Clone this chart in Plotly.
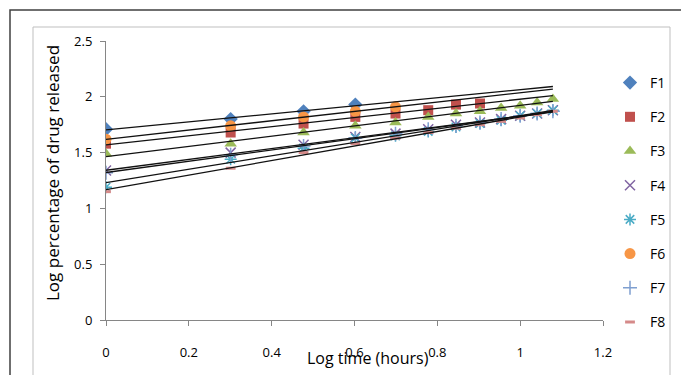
import numpy as np
import plotly.graph_objects as go

# log time (hours) values
log_time = [0, 0.301, 0.477, 0.602, 0.699, 0.778, 0.845, 0.903, 0.954, 1.0, 1.041, 1.079]

series_names = ["F1", "F2", "F3", "F4", "F5", "F6", "F7", "F8"]
F1 = [1.71, 1.80, 1.87, 1.93]
F2 = [1.58, 1.68, 1.76, 1.82, 1.85, 1.88, 1.93, 1.94]
F3 = [1.49, 1.58, 1.68, 1.74, 1.77, 1.82, 1.85, 1.87, 1.90, 1.92, 1.95, 1.98]
F4 = [1.34, 1.50, 1.57, 1.64, 1.67, 1.71, 1.75, 1.77, 1.80, 1.83, 1.85, 1.88]
F5 = [1.19, 1.44, 1.54, 1.63, 1.65, 1.69, 1.73, 1.76, 1.79, 1.83, 1.85, 1.88]
F6 = [1.62, 1.74, 1.82, 1.87, 1.91]
F7 = [1.32, 1.48, 1.56, 1.63, 1.67, 1.71, 1.74, 1.77, 1.80, 1.83, 1.85, 1.87]
F8 = [1.15, 1.36, 1.50, 1.58, 1.63, 1.68, 1.72, 1.75, 1.78, 1.81, 1.84, 1.87]
series_values = [F1, F2, F3, F4, F5, F6, F7, F8]

x_ticks = [0, 0.2, 0.4, 0.6, 0.8, 1, 1.2]
y_ticks = [0, 0.5, 1, 1.5, 2, 2.5]

styles = [
    dict(symbol="diamond", size=11, color="#4F81BD"),
    dict(symbol="square", size=10, color="#C0504D"),
    dict(symbol="triangle-up", size=11, color="#9BBB59"),
    dict(symbol="x-thin-open", size=10, color="#8064A2", line=dict(color="#8064A2", width=1.5)),
    dict(symbol="asterisk-open", size=10, color="#4BACC6", line=dict(color="#4BACC6", width=1.5)),
    dict(symbol="circle", size=11, color="#F79646"),
    dict(symbol="cross-thin-open", size=10, color="#7F9FD0", line=dict(color="#7F9FD0", width=1.5)),
    dict(symbol="line-ew-open", size=7, color="#D58A89", line=dict(color="#D58A89", width=3)),
]

fig = go.Figure()
for name, vals, st in zip(series_names, series_values, styles):
    xs = log_time[:len(vals)]
    fig.add_trace(go.Scatter(x=xs, y=vals, mode="markers", name=name,
                             legendgroup=name, marker=st))

xmax = max(log_time)
for name, vals in zip(series_names, series_values):
    xs = np.array(log_time[:len(vals)])
    m, c = np.polyfit(xs, np.array(vals), 1)
    fig.add_trace(go.Scatter(x=[0, xmax], y=[c, c + m * xmax], mode="lines",
                             line=dict(color="#111111", width=1.3),
                             showlegend=False, hoverinfo="skip"))

def px2x(px):
    return (px - 106) / 497

def px2y(py):
    return (320 - py) / 279

shapes = [
    dict(type="rect", xref="paper", yref="paper", x0=px2x(10), x1=px2x(720),
         y0=px2y(420), y1=px2y(10), line=dict(color="#404040", width=1.5)),
    dict(type="rect", xref="paper", yref="paper", x0=px2x(33), x1=px2x(670),
         y0=px2y(420), y1=px2y(27), line=dict(color="#BFBFBF", width=1)),
]

annotations = [
    dict(text="Log time (hours)", xref="paper", yref="paper", x=px2x(368), y=px2y(358),
         showarrow=False, font=dict(family="Open Sans", size=16, color="#000000"),
         xanchor="center", yanchor="middle"),
    dict(text="Log percentage of drug released", xref="paper", yref="paper",
         x=px2x(52), y=px2y(173), textangle=-90, showarrow=False,
         font=dict(family="Open Sans", size=17, color="#000000"),
         xanchor="center", yanchor="middle"),
]

fig.update_layout(
    width=681, height=375,
    margin=dict(l=106, r=78, t=41, b=55, autoexpand=False),
    plot_bgcolor="white", paper_bgcolor="white",
    showlegend=True,
    legend=dict(x=px2x(610), y=px2y(67), xanchor="left", yanchor="top",
                font=dict(family="Open Sans", size=14, color="#000000"),
                tracegroupgap=13, bgcolor="rgba(0,0,0,0)"),
    shapes=shapes, annotations=annotations,
    xaxis=dict(range=[0, 1.2], tickvals=x_ticks, ticktext=[str(v) for v in x_ticks],
               showgrid=False, zeroline=False, showline=True, linecolor="#868686",
               ticks="outside", ticklen=5, tickcolor="#868686",
               tickfont=dict(family="Open Sans", size=13, color="#000000"),
               ticklabelstandoff=15),
    yaxis=dict(range=[0, 2.5], tickvals=y_ticks, ticktext=[str(v) for v in y_ticks],
               showgrid=False, zeroline=False, showline=True, linecolor="#868686",
               ticks="outside", ticklen=5, tickcolor="#868686",
               tickfont=dict(family="Open Sans", size=13, color="#000000"),
               ticklabelstandoff=5),
)

fig.write_html("out.html", config={"displayModeBar": False},
               post_script="document.body.style.margin='0px';")
